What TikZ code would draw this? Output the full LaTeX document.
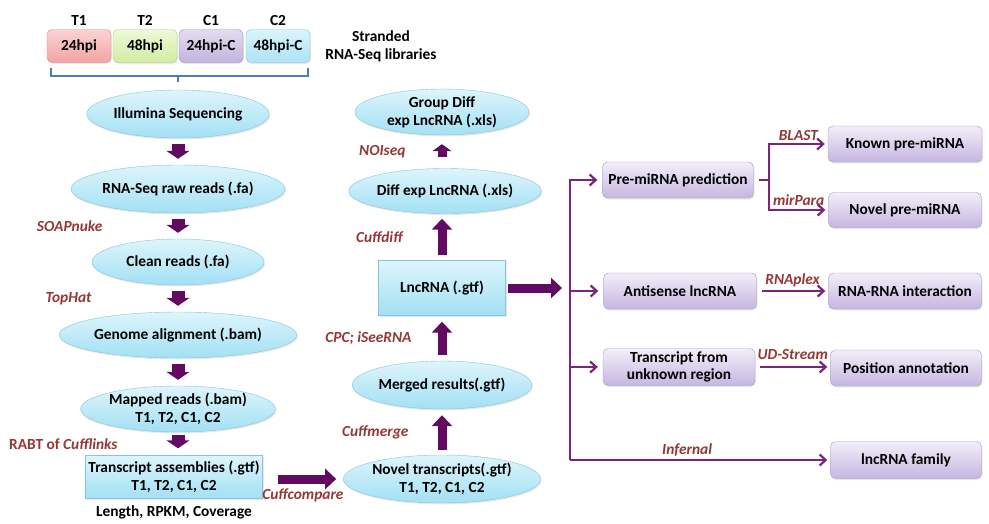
\documentclass[tikz,border=0pt]{standalone}
\usepackage{fontspec}
\setmainfont{Carlito}
\usetikzlibrary{arrows.meta, positioning, calc, shapes.geometric, shadows}
\definecolor{plum}{HTML}{620A62}
\definecolor{vine}{HTML}{7A2678}
\definecolor{brick}{HTML}{953735}
\definecolor{skytop}{HTML}{DDF5FC}
\definecolor{skybot}{HTML}{A3E0F3}
\definecolor{skyedge}{HTML}{86C4DA}
\definecolor{lilactop}{HTML}{F2EEF9}
\definecolor{lilacbot}{HTML}{C6B6E0}
\definecolor{lilacedge}{HTML}{A995CB}
\definecolor{rosetop}{HTML}{FBD3D3}
\definecolor{rosebot}{HTML}{F3A3A3}
\definecolor{roseedge}{HTML}{D98888}
\definecolor{limetop}{HTML}{EEF9D8}
\definecolor{limebot}{HTML}{D1ECA2}
\definecolor{limeedge}{HTML}{A8CE74}
\definecolor{lavtop}{HTML}{E3DCF0}
\definecolor{lavbot}{HTML}{C3B4DD}
\definecolor{lavedge}{HTML}{9A88C2}
\definecolor{aquatop}{HTML}{DAF4FC}
\definecolor{aquabot}{HTML}{ADE3F5}
\definecolor{aquaedge}{HTML}{7FC4DC}
\definecolor{braceblue}{HTML}{4A7EBB}

\begin{document}
\begin{tikzpicture}[x=1pt, y=-1pt, font=\bfseries\fontsize{15.4}{18}\selectfont,
  softshadow/.style={drop shadow={opacity=0.18, shadow xshift=1pt, shadow yshift=-1.5pt}},
  libbox/.style={rounded corners=5pt, minimum width=64pt, minimum height=33pt,
    inner sep=0pt, label distance=3pt, softshadow},
  oval/.style={ellipse, draw=skyedge, top color=skytop, bottom color=skybot,
    minimum width=172pt, minimum height=48pt, inner sep=0pt, align=center, softshadow},
  slab/.style={rectangle, draw=skyedge, top color=skytop, bottom color=skybot,
    inner sep=0pt, align=center, softshadow},
  result/.style={rectangle, rounded corners=5pt, draw=lilacedge, top color=lilactop,
    bottom color=lilacbot, minimum width=152pt, minimum height=36pt, inner sep=0pt,
    align=center, softshadow},
  tool/.style={brick, font=\bfseries\itshape\fontsize{15.4}{18}\selectfont, inner sep=0pt},
  bigdown/.style={plum, line width=13pt, -{Triangle[length=8pt,width=23pt]},
    shorten >=6pt, shorten <=6pt},
  fat/.style={plum, line width=9pt, -{Triangle[length=11pt,width=20pt]}},
  branch/.style={vine, line width=2.2pt, -{Straight Barb[length=6pt,width=11pt]},
    shorten <=0pt}]
  \useasboundingbox (0,0) rectangle (989,523);

  % libraries
  \node[libbox, draw=roseedge, top color=rosetop, bottom color=rosebot, label=above:T1] (lib1) at (79,46) {24hpi};
  \node[libbox, draw=limeedge, top color=limetop, bottom color=limebot, label=above:T2] (lib2) at (145,46) {48hpi};
  \node[libbox, draw=lavedge, top color=lavtop, bottom color=lavbot, label=above:C1] (lib3) at (211,46) {24hpi-C};
  \node[libbox, draw=aquaedge, top color=aquatop, bottom color=aquabot, label=above:C2] (lib4) at (278,46) {48hpi-C};
  \node[align=center] (strand) at (381,46) {Stranded\\RNA-Seq libraries};
  \draw[braceblue, line width=2pt] (51,68) -- (51,76) -- (308,76) -- (308,68) (178,76) -- (178,82);

  % left column
  \node[oval, minimum width=174pt] (illumina) at (178,114) {Illumina Sequencing};
  \node[oval] (rawreads) at (178,189) {RNA-Seq raw reads (.fa)};
  \node[oval, minimum height=46pt] (clean) at (178,262) {Clean reads (.fa)};
  \node[oval, minimum height=46pt] (genome) at (178,335) {Genome alignment (.bam)};
  \node[oval, minimum height=46pt] (mapped) at (178,409) {Mapped reads (.bam)\\T1, T2, C1, C2};
  \node[slab, minimum width=177pt, minimum height=43pt] (trasm) at (174,477) {Transcript assemblies (.gtf)\\T1, T2, C1, C2};
  \node (metrics) [below=3pt of trasm] {Length, RPKM, Coverage};

  \draw[bigdown] (illumina) -- (rawreads);
  \draw[bigdown] (rawreads) -- node[tool, left=69pt] {SOAPnuke} (clean);
  \draw[bigdown] (clean) -- node[tool, left=80pt] {TopHat} (genome);
  \draw[bigdown] (genome) -- (mapped);
  \draw[bigdown, shorten <=3pt, shorten >=7pt] (mapped) -- node[tool, left=54pt] {\textup{RABT of} Cufflinks} (mapped |- trasm.north);

  % middle column
  \node[oval, minimum width=174pt] (novel) at (442,479) {Novel transcripts(.gtf)\\T1, T2, C1, C2};
  \node[oval] (merged) at (442,385) {Merged results(.gtf)};
  \node[slab, minimum width=127pt, minimum height=55pt] (lncrna) at (442,288) {LncRNA (.gtf)};
  \node[oval, minimum width=164pt, minimum height=45pt] (diffexp) at (445,191) {Diff exp LncRNA (.xls)};
  \node[oval, minimum width=174pt, minimum height=46pt] (groupdiff) at (442,112) {Group Diff\\exp LncRNA (.xls)};

  \draw[fat, shorten <=15pt, shorten >=7pt] (trasm.east |- novel) -- node[tool, below=5pt] {Cuffcompare} (novel.west);
  \draw[fat, shorten <=5pt, shorten >=6pt] (novel) -- node[tool, left=29pt] {Cuffmerge} (merged);
  \draw[fat, shorten <=6pt, shorten >=6pt] (merged) -- node[tool, left=26pt] {CPC; iSeeRNA} (lncrna);
  \draw[fat, shorten <=5pt, shorten >=5pt] (lncrna.north) -- node[tool, left=35pt] {Cuffdiff} (lncrna.north |- diffexp.south);
  \draw[fat, -{Triangle[length=7pt,width=19pt]}, shorten <=11pt, shorten >=9pt] (diffexp.north -| groupdiff) -- node[tool, left=32pt] {NOIseq} (groupdiff.south);

  % right side
  \coordinate (trunk) at (570,460);
  \coordinate (fork) at (769,180);
  \node[result, minimum width=151pt] (premirna) at (678,180) {Pre-miRNA prediction};
  \node[result, minimum width=154pt] (knownmi) at (905,144) {Known pre-miRNA};
  \node[result, minimum width=153pt, minimum height=35pt] (novelmi) at (905,210) {Novel pre-miRNA};
  \node[result, minimum width=153pt] (antisense) at (680,291) {Antisense lncRNA};
  \node[result, minimum width=153pt] (rnarna) at (905,291) {RNA-RNA interaction};
  \node[result, minimum height=37pt, font=\bfseries\fontsize{15.4}{17}\selectfont] (transunk) at (679,367) {Transcript from\\unknown region};
  \node[result, minimum width=151pt] (posann) at (906,368) {Position annotation};
  \node[result, minimum width=151pt, minimum height=37pt] (lncfam) at (906,460) {lncRNA family};

  \draw[fat, shorten <=2pt, shorten >=8pt] (lncrna.east) -- (lncrna.east -| trunk);
  \draw[branch, shorten >=5pt] (trunk) |- (premirna.west);
  \draw[branch, shorten >=5pt] (trunk |- antisense) -- (antisense.west);
  \draw[branch, shorten >=5pt] (trunk |- transunk) -- (transunk.west);
  \draw[branch, shorten >=3pt] (trunk) -- node[tool, above=3pt, pos=0.45] {Infernal} (lncfam.west);
  \draw[vine, line width=2.2pt, shorten <=5pt] (premirna.east) -- (fork);
  \draw[branch, shorten >=3pt] (fork) |- node[tool, above=2pt, pos=0.75] {BLAST} (knownmi.west);
  \draw[branch, shorten >=3pt] (fork) |- node[tool, above=3pt, pos=0.75] {mirPara} (novelmi.west);
  \draw[branch, shorten <=5pt, shorten >=3pt] (antisense.east) -- node[tool, above=3pt] {RNAplex} (rnarna.west);
  \draw[branch, shorten <=5pt, shorten >=3pt] (transunk.east) -- node[tool, above=6pt] {UD-Stream} (transunk.east -| posann.west);
\end{tikzpicture}
\end{document}
